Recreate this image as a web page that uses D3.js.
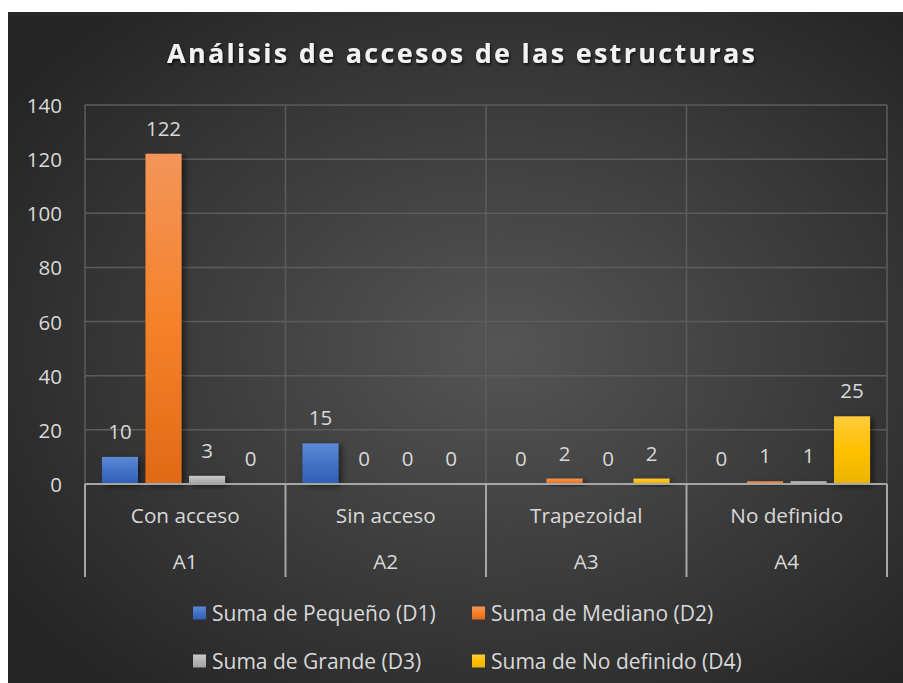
<!DOCTYPE html>
<html>
<head>
<meta charset="utf-8">
<script src="https://cdn.jsdelivr.net/npm/d3@7"></script>
<style>
  html, body { margin: 0; padding: 0; background: #fff; }
  svg { display: block; }
  text { font-family: "Open Sans", "Noto Sans", sans-serif; fill: #d9d9d9; }
</style>
</head>
<body>
<svg></svg>
<script>
var width = 903, height = 683;

// data
var categories = ["Con acceso", "Sin acceso", "Trapezoidal", "No definido"];
var groups = ["A1", "A2", "A3", "A4"];
var seriesNames = ["Suma de Pequeño (D1)", "Suma de Mediano (D2)", "Suma de Grande (D3)", "Suma de No definido (D4)"];
var pequeno = [10, 15, 0, 0];
var mediano = [122, 0, 2, 1];
var grande = [3, 0, 0, 1];
var noDefinido = [0, 0, 2, 25];
var yTicks = [0, 20, 40, 60, 80, 100, 120, 140];

var seriesValues = [pequeno, mediano, grande, noDefinido];
var colors = [
    ["#5b8ad8", "#4472c4", "#2f5fb8"],
    ["#f3955a", "#f5822a", "#e06a17"],
    ["#cacaca", "#b5b5b5", "#a3a3a3"],
    ["#ffcb3d", "#ffc000", "#ebb400"]
];

var svg = d3.select("svg")
    .attr("width", width)
    .attr("height", height);

var defs = svg.append("defs");

var bg = defs.append("radialGradient")
    .attr("id", "bg")
    .attr("cx", "55%").attr("cy", "50%").attr("r", "65%");
bg.append("stop").attr("offset", "0%").attr("stop-color", "#555555");
bg.append("stop").attr("offset", "100%").attr("stop-color", "#262626");

colors.forEach(function (c, i) {
    var g = defs.append("linearGradient")
        .attr("id", "bar" + i)
        .attr("x1", 0).attr("y1", 0).attr("x2", 0).attr("y2", 1);
    g.append("stop").attr("offset", "0%").attr("stop-color", c[0]);
    g.append("stop").attr("offset", "50%").attr("stop-color", c[1]);
    g.append("stop").attr("offset", "100%").attr("stop-color", c[2]);
});

var shadow = defs.append("filter")
    .attr("id", "shadow")
    .attr("x", "-50%").attr("y", "-50%").attr("width", "200%").attr("height", "200%");
shadow.append("feDropShadow")
    .attr("dx", 3).attr("dy", 2).attr("stdDeviation", 3)
    .attr("flood-color", "#000").attr("flood-opacity", 0.55);

var titleShadow = defs.append("filter").attr("id", "tshadow");
titleShadow.append("feDropShadow")
    .attr("dx", 1).attr("dy", 2).attr("stdDeviation", 1.5)
    .attr("flood-color", "#000").attr("flood-opacity", 0.7);

// chart background
svg.append("rect")
    .attr("x", 8).attr("y", 12)
    .attr("width", width - 8).attr("height", height - 12)
    .attr("fill", "url(#bg)");

svg.append("text")
    .attr("x", 461).attr("y", 63)
    .attr("text-anchor", "middle")
    .attr("textLength", 588)
    .attr("lengthAdjust", "spacing")
    .style("font-size", "27px")
    .style("font-weight", "bold")
    .style("fill", "#f2f2f2")
    .attr("filter", "url(#tshadow)")
    .text("Análisis de accesos de las estructuras");

var plotLeft = 85, plotRight = 887, plotTop = 105, plotBottom = 484;

var y = d3.scaleLinear()
    .domain([0, 140])
    .range([plotBottom, plotTop]);

var x0 = d3.scaleBand()
    .domain(categories)
    .range([plotLeft, plotRight]);

var x1 = d3.scaleBand()
    .domain(d3.range(seriesNames.length))
    .range([0, x0.bandwidth()])
    .paddingInner(0.172)
    .paddingOuter(0.39);

// gridlines
var grid = svg.append("g");
grid.selectAll("line.h")
    .data(yTicks.filter(function (d) { return d > 0; }))
    .enter().append("line")
    .attr("class", "h")
    .attr("x1", plotLeft).attr("x2", plotRight)
    .attr("y1", function (d) { return y(d); })
    .attr("y2", function (d) { return y(d); })
    .attr("stroke", "#5c5c5c")
    .attr("stroke-width", 1.5);

var bounds = categories.map(function (c) { return x0(c); }).concat([plotRight]);

grid.selectAll("line.v")
    .data(bounds)
    .enter().append("line")
    .attr("class", "v")
    .attr("x1", function (d) { return d; })
    .attr("x2", function (d) { return d; })
    .attr("y1", plotTop).attr("y2", plotBottom)
    .attr("stroke", "#5c5c5c")
    .attr("stroke-width", 1.5);

// y axis labels
var yAxis = d3.axisLeft(y).tickValues(yTicks).tickSize(0).tickPadding(0);
svg.append("g")
    .attr("transform", "translate(62,0)")
    .call(yAxis)
    .call(function (g) { g.select(".domain").remove(); })
    .selectAll("text")
    .attr("dy", null)
    .attr("y", 7.5)
    .style("font-size", "20.5px")
    .style("font-family", '"Open Sans", sans-serif')
    .attr("fill", "#d9d9d9");

// bars
var catGroups = svg.append("g")
    .selectAll("g")
    .data(categories)
    .enter().append("g")
    .attr("transform", function (c) { return "translate(" + x0(c) + ",0)"; });

var bars = catGroups.selectAll("g")
    .data(function (c, ci) {
        return seriesValues.map(function (vals, si) {
            return { s: si, v: vals[ci] };
        });
    })
    .enter().append("g");

bars.filter(function (d) { return d.v > 0; })
    .append("rect")
    .attr("x", function (d) { return x1(d.s); })
    .attr("width", x1.bandwidth())
    .attr("y", function (d) { return y(d.v); })
    .attr("height", function (d) { return y(0) - y(d.v); })
    .attr("fill", function (d) { return "url(#bar" + d.s + ")"; })
    .attr("filter", "url(#shadow)");

bars.append("text")
    .attr("x", function (d) { return x1(d.s) + x1.bandwidth() / 2; })
    .attr("y", function (d) { return y(d.v) - 18; })
    .attr("text-anchor", "middle")
    .style("font-size", "20.5px")
    .text(function (d) { return d.v; });

// category axis
var axis = svg.append("g");
axis.append("line")
    .attr("x1", plotLeft).attr("x2", plotRight)
    .attr("y1", plotBottom).attr("y2", plotBottom)
    .attr("stroke", "#a6a6a6").attr("stroke-width", 2);

axis.selectAll("line.sep")
    .data(bounds)
    .enter().append("line")
    .attr("class", "sep")
    .attr("x1", function (d) { return d; })
    .attr("x2", function (d) { return d; })
    .attr("y1", plotBottom).attr("y2", 577)
    .attr("stroke", "#a6a6a6").attr("stroke-width", 2);

axis.selectAll("text.cat")
    .data(categories)
    .enter().append("text")
    .attr("class", "cat")
    .attr("x", function (c) { return x0(c) + x0.bandwidth() / 2; })
    .attr("y", 523)
    .attr("text-anchor", "middle")
    .style("font-size", "20.7px")
    .text(function (c) { return c; });

axis.selectAll("text.grp")
    .data(groups)
    .enter().append("text")
    .attr("class", "grp")
    .attr("x", function (g, i) { return x0(categories[i]) + x0.bandwidth() / 2; })
    .attr("y", 569)
    .attr("text-anchor", "middle")
    .style("font-size", "20.7px")
    .text(function (g) { return g; });

// legend
var legendX = [193, 472];
var legendY = [613, 661];
var legend = svg.append("g")
    .selectAll("g")
    .data(seriesNames)
    .enter().append("g")
    .attr("transform", function (d, i) {
        return "translate(" + legendX[i % 2] + "," + legendY[Math.floor(i / 2)] + ")";
    });

legend.append("rect")
    .attr("x", 0).attr("y", -6.5)
    .attr("width", 13).attr("height", 13)
    .attr("fill", function (d, i) { return "url(#bar" + i + ")"; });

legend.append("text")
    .attr("x", 19).attr("y", 7.5)
    .style("font-size", "21px")
    .text(function (d) { return d; });
</script>
</body>
</html>
